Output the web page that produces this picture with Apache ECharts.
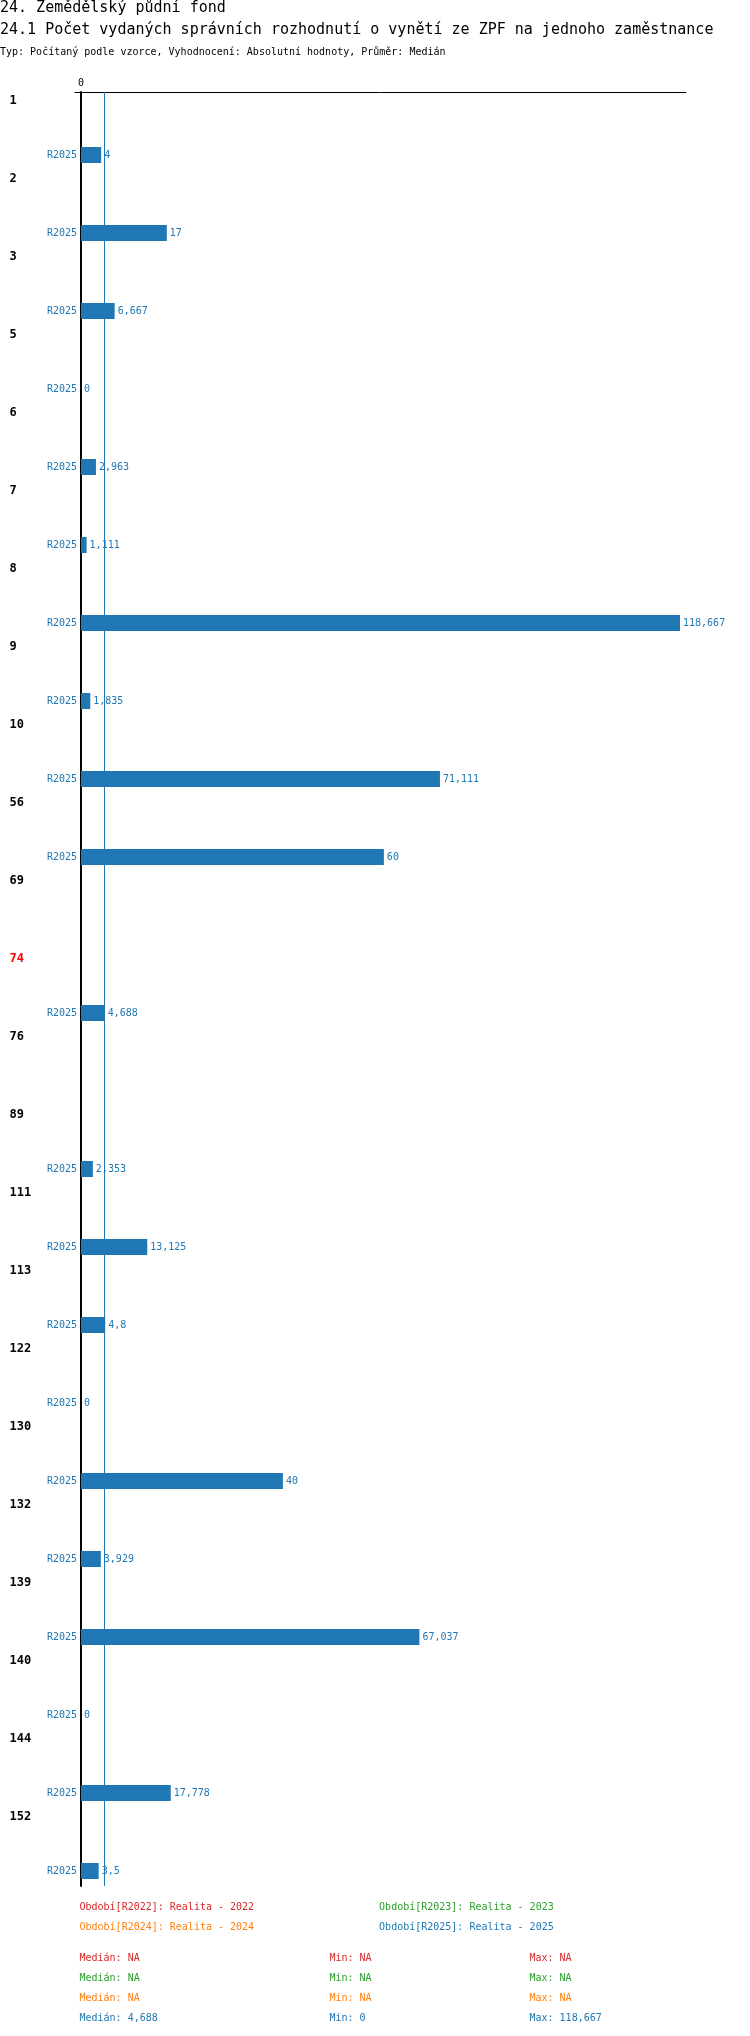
<!DOCTYPE html>
<html>
<head>
<meta charset="utf-8">
<script src="https://cdn.jsdelivr.net/npm/echarts@6/dist/echarts.min.js"></script>
<style>
  html, body { margin: 0; padding: 0; background: #fff; }
  #main { width: 750px; height: 2036px; }
</style>
</head>
<body>
<div id="main"></div>
<script>
// obce (kategorie) a hodnoty za obdobi
var categories = ['1', '2', '3', '5', '6', '7', '8', '9', '10', '56', '69', '74', '76', '89', '111', '113', '122', '130', '132', '139', '140', '144', '152'];
var highlighted = '74';
var periods = ['R2022', 'R2023', 'R2024', 'R2025'];
var periodNames = ['Realita - 2022', 'Realita - 2023', 'Realita - 2024', 'Realita - 2025'];
var periodColors = ['#d62728', '#2ca02c', '#ff7f0e', '#1f77b4'];
var r2022 = categories.map(function () { return null; });
var r2023 = categories.map(function () { return null; });
var r2024 = categories.map(function () { return null; });
var r2025 = [4, 17, 6.667, 0, 2.963, 1.111, 118.667, 1.835, 71.111, 60, null, 4.688, null, 2.353, 13.125, 4.8, 0, 40, 3.929, 67.037, 0, 17.778, 3.5];
var periodData = [r2022, r2023, r2024, r2025];

var FONT = 'DejaVu Sans Mono';

function fmt(v) {
    return String(v).replace('.', ',');
}
function sorted(arr) {
    return arr.filter(function (v) { return v != null; }).sort(function (a, b) { return a - b; });
}
function median(vals) {
    var n = vals.length;
    return n % 2 ? vals[(n - 1) / 2] : (vals[n / 2 - 1] + vals[n / 2]) / 2;
}
function stats(arr) {
    var vals = sorted(arr);
    if (!vals.length) return { med: 'NA', min: 'NA', max: 'NA' };
    return { med: fmt(median(vals)), min: fmt(vals[0]), max: fmt(vals[vals.length - 1]) };
}

var dataMax = Math.max.apply(null, sorted(r2025));
var median25 = median(sorted(r2025));

var series = [];
periods.forEach(function (p, i) {
    if (i < 3) {
        series.push({
            name: p, type: 'bar', barWidth: 16, barGap: '0%',
            itemStyle: { color: periodColors[i] },
            data: periodData[i]
        });
    }
});
// popisek obdobi vlevo od osy
series.push({
    name: 'R2025', type: 'bar', stack: 'r25', barWidth: 16, barGap: '0%',
    itemStyle: { color: periodColors[3] },
    label: {
        show: true, position: 'left', distance: 4,
        formatter: 'R2025', color: periodColors[3], fontFamily: FONT, fontSize: 10
    },
    data: r2025.map(function (v) { return v == null ? null : 0; })
});
series.push({
    name: 'R2025', type: 'bar', stack: 'r25', barWidth: 16, barGap: '0%',
    itemStyle: { color: periodColors[3] },
    label: {
        show: true, position: 'right', distance: 3,
        formatter: function (p) { return fmt(p.value); },
        color: periodColors[3], fontFamily: FONT, fontSize: 10
    },
    markLine: {
        silent: true, symbol: 'none',
        label: { show: false },
        emphasis: { disabled: true },
        lineStyle: { color: periodColors[3], width: 1, type: 'solid', opacity: 1 },
        data: [{ xAxis: median25 }]
    },
    data: r2025
});

var graphics = [];
var statRowY = [1958, 1978, 1998, 2018];
var statColX = [79.5, 329.5, 529.5];
periodData.forEach(function (arr, i) {
    var s = stats(arr);
    var texts = ['Medián: ' + s.med, 'Min: ' + s.min, 'Max: ' + s.max];
    texts.forEach(function (t, j) {
        graphics.push({
            type: 'text', x: statColX[j], y: statRowY[i],
            style: { text: t, fill: periodColors[i], font: '10px "' + FONT + '"', textVerticalAlign: 'middle' }
        });
    });
});

function legendItem(i) {
    return { name: periods[i], icon: 'none', textStyle: { color: periodColors[i] } };
}
var legendBase = {
    left: 74.5, itemWidth: 0, itemHeight: 0, itemGap: 120, padding: 0,
    selectedMode: false,
    textStyle: { fontFamily: FONT, fontSize: 10 },
    formatter: function (name) {
        return 'Období[' + name + ']: ' + periodNames[periods.indexOf(name)];
    }
};

var myChart = echarts.init(document.getElementById('main'));
myChart.setOption({
    animation: false,
    backgroundColor: '#fff',
    title: [
        { text: '24. Zemědělský půdní fond', left: 0, top: 1, padding: 0,
          textStyle: { fontFamily: FONT, fontSize: 15, fontWeight: 'normal', color: '#000' } },
        { text: '24.1 Počet vydaných správních rozhodnutí o vynětí ze ZPF na jednoho zaměstnance', left: 0, top: 23, padding: 0,
          textStyle: { fontFamily: FONT, fontSize: 15, fontWeight: 'normal', color: '#000' } },
        { text: 'Typ: Počítaný podle vzorce, Vyhodnocení: Absolutní hodnoty, Průměr: Medián', left: 0, top: 47, padding: 0,
          textStyle: { fontFamily: FONT, fontSize: 10, fontWeight: 'normal', color: '#000' } }
    ],
    legend: [
        Object.assign({}, legendBase, { top: 1902, data: [legendItem(0), legendItem(1)] }),
        Object.assign({}, legendBase, { top: 1922, data: [legendItem(2), legendItem(3)] })
    ],
    grid: { left: 75, right: 64, top: 92, height: 1794 },
    xAxis: {
        type: 'value', position: 'top',
        min: -0.01 * dataMax, max: 1.01 * dataMax,
        axisLine: { show: true, lineStyle: { color: '#000', width: 1 } },
        axisTick: { show: false },
        splitLine: { show: false },
        axisLabel: { customValues: [0], color: '#000', fontFamily: FONT, fontSize: 10, margin: 4 }
    },
    yAxis: {
        type: 'category', inverse: true, data: categories,
        axisLine: { show: true, onZero: true, lineStyle: { color: '#000', width: 2 } },
        axisTick: { show: false },
        axisLabel: {
            align: 'left', margin: 65.5, fontFamily: FONT, fontSize: 12, fontWeight: 'bold',
            lineHeight: 12,
            formatter: function (v) { return v + '\n\n\n\n\n'; },
            color: function (v) { return v === highlighted ? '#ff0000' : '#000'; }
        }
    },
    graphic: graphics,
    series: series
});
</script>
</body>
</html>
